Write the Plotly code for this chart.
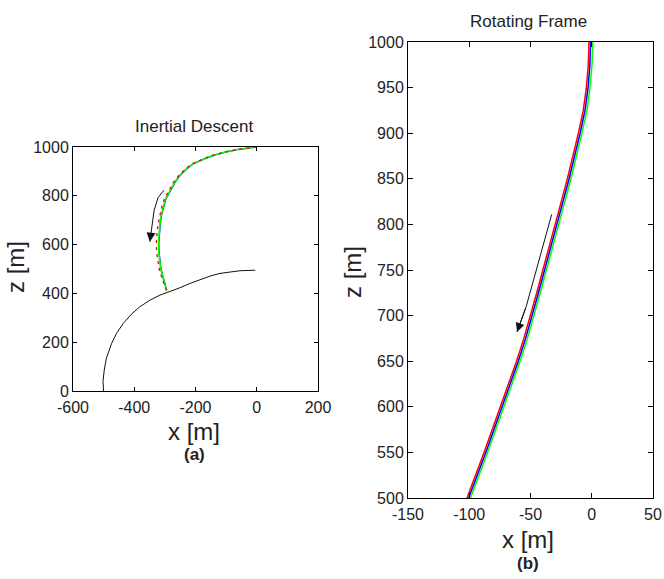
import plotly.graph_objects as go

# ---------------- data: panel (a) inertial descent ----------------
ground_x = [-500, -502, -498, -491, -474, -458, -436, -409, -382, -349, -316, -283, -251, -218, -185, -152, -120, -87, -54, -5]
ground_z = [0, 38, 86, 134, 195, 236, 277, 315, 345, 372, 393, 407, 423, 441, 457, 471, 482, 488, 493, 495]

inert_z = [1000, 996, 989, 979, 966, 950, 932, 911, 884, 857, 823, 789, 754, 720, 686, 645, 604, 570, 536, 502, 468, 441, 413]
inert_x_green = [-2, -32, -65, -103, -142, -174, -207, -229, -251, -267, -283, -297, -305, -312, -316, -319, -321, -320, -318, -314, -307, -301, -294]
inert_x_blue = [-2, -32, -65, -103, -141, -173, -206, -228, -250, -266, -282, -296, -304, -311, -315, -318, -320, -319, -317, -313, -306, -300, -294]
inert_x_red = [-2, -33, -66, -105, -144, -177, -210, -232, -254, -271, -287, -301, -310, -317, -322, -326, -328, -327, -324, -319, -311, -303, -295]

arrow_a_x = [-303, -322, -335, -341, -346, -349]
arrow_a_z = [823, 793, 741, 686, 640, 612]

# ---------------- data: panel (b) rotating frame ----------------
rot_z = [1000, 975, 950, 925, 900, 875, 850, 825, 800, 775, 750, 725, 700, 675, 650, 625, 600, 575, 550, 525, 500]
rot_x_blue = [-1.0, -1.5, -3.0, -5.5, -9.5, -13.8, -18.5, -23.5, -28.3, -33.3, -38.5, -43.5, -48.5, -54.0, -60.0, -66.5, -73.0, -79.5, -86.5, -93.5, -100.5]
rot_x_red = [-2.3, -2.8, -4.4, -6.9, -10.9, -15.2, -19.9, -24.9, -29.7, -34.7, -39.9, -44.9, -49.9, -55.4, -61.4, -67.9, -74.4, -80.9, -87.9, -94.9, -101.8]
rot_x_green = [0.8, 0.2, -1.4, -3.9, -8.0, -12.3, -17.0, -22.0, -26.8, -31.8, -37.0, -42.0, -47.0, -52.5, -58.5, -65.0, -71.5, -78.0, -85.0, -92.0, -99.0]

arrow_b_x = [-32.7, -40.0, -47.5, -53.5, -61.0]
arrow_b_z = [811, 775, 738, 710, 682]

# ---------------- axes ticks ----------------
a_xticks = [-600, -400, -200, 0, 200]
a_xtext = ["-600", "-400", "-200", "0", "200"]
a_zticks = [0, 200, 400, 600, 800, 1000]
a_ztext = ["0", "200", "400", "600", "800", "1000"]
b_xticks = [-150, -100, -50, 0, 50]
b_xtext = ["-150", "-100", "-50", "0", "50"]
b_zticks = [500, 550, 600, 650, 700, 750, 800, 850, 900, 950, 1000]
b_ztext = ["500", "550", "600", "650", "700", "750", "800", "850", "900", "950", "1000"]

FONT = "Liberation Sans, Arial, sans-serif"
W, H = 664, 579

fig = go.Figure()

def line(x, y, color, xa, ya, width=1.3, dash="solid"):
    fig.add_trace(go.Scatter(x=x, y=y, mode="lines", xaxis=xa, yaxis=ya,
                             line=dict(color=color, width=width, dash=dash),
                             showlegend=False, hoverinfo="skip"))

# panel a
line(ground_x, ground_z, "#111111", "x", "y", width=1)
line(inert_x_blue, inert_z, "#0000ff", "x", "y")
line(inert_x_green, inert_z, "#00ff00", "x", "y", width=1.6)
line(inert_x_red, inert_z, "#ff0000", "x", "y", width=1.3, dash="3px,4px")
line(arrow_a_x, arrow_a_z, "#111111", "x", "y", width=1)

# panel b
line(rot_x_green, rot_z, "#00ff00", "x2", "y2", width=1.5)
line(rot_x_blue, rot_z, "#0000ff", "x2", "y2", width=1.5)
line(rot_x_red, rot_z, "#ff0000", "x2", "y2", width=1.5)
line(arrow_b_x, arrow_b_z, "#111111", "x2", "y2", width=1)

def px_dom(a, b):
    return [a / W, b / W]

def py_dom(top, bottom):
    return [1 - bottom / H, 1 - top / H]

axis_common = dict(showline=True, linecolor="black", linewidth=1, mirror="ticks",
                   ticks="inside", tickcolor="black", showgrid=False, zeroline=False,
                   automargin=False,
                   tickfont=dict(family=FONT, size=16, color="#222222"), tickmode="array")

fig.update_layout(
    width=W, height=H, margin=dict(l=0, r=0, t=0, b=0, pad=0, autoexpand=False),
    paper_bgcolor="white", plot_bgcolor="white",
    xaxis=dict(domain=px_dom(73, 318), range=[-600, 200], tickvals=a_xticks, ticktext=a_xtext,
               anchor="y", ticklen=4, ticklabelstandoff=2, **axis_common),
    yaxis=dict(domain=py_dom(147, 391), range=[0, 1000], tickvals=a_zticks, ticktext=a_ztext,
               anchor="x", ticklen=4, **axis_common),
    xaxis2=dict(domain=px_dom(408, 653), range=[-150, 50], tickvals=b_xticks, ticktext=b_xtext,
                anchor="y2", ticklen=5, ticklabelstandoff=2, **axis_common),
    yaxis2=dict(domain=py_dom(42, 498), range=[500, 1000], tickvals=b_zticks, ticktext=b_ztext,
                anchor="x2", ticklen=5, **axis_common),
)

anns = []
def text(s, x, y, size, bold=False, angle=0):
    anns.append(dict(text=("<b>%s</b>" % s) if bold else s, x=x / W, y=1 - y / H, xref="paper", yref="paper",
                     showarrow=False, xanchor="center", yanchor="middle", textangle=angle,
                     font=dict(family=FONT, size=size, color="#222222")))

text("Inertial Descent", 194, 127, 17)
text("Rotating Frame", 528, 22, 17)
text("x [m]", 194, 431, 24)
text("(a)", 194, 454, 17, bold=True)
text("x [m]", 528, 539, 24)
text("(b)", 528, 563, 17, bold=True)
text("z [m]", 15, 267, 24, angle=-90)
text("z [m]", 352, 272, 24, angle=-90)

# arrowheads
anns.append(dict(x=arrow_a_x[-1], y=arrow_a_z[-1], ax=arrow_a_x[-2], ay=arrow_a_z[-2], xref="x", yref="y",
                 axref="x", ayref="y", showarrow=True, arrowhead=2, arrowsize=1.8, arrowwidth=1,
                 arrowcolor="#111111", text=""))
anns.append(dict(x=arrow_b_x[-1], y=arrow_b_z[-1], ax=arrow_b_x[-2], ay=arrow_b_z[-2], xref="x2", yref="y2",
                 axref="x2", ayref="y2", showarrow=True, arrowhead=2, arrowsize=1.8, arrowwidth=1,
                 arrowcolor="#111111", text=""))
fig.update_layout(annotations=anns)

fig.write_html("out.html")
